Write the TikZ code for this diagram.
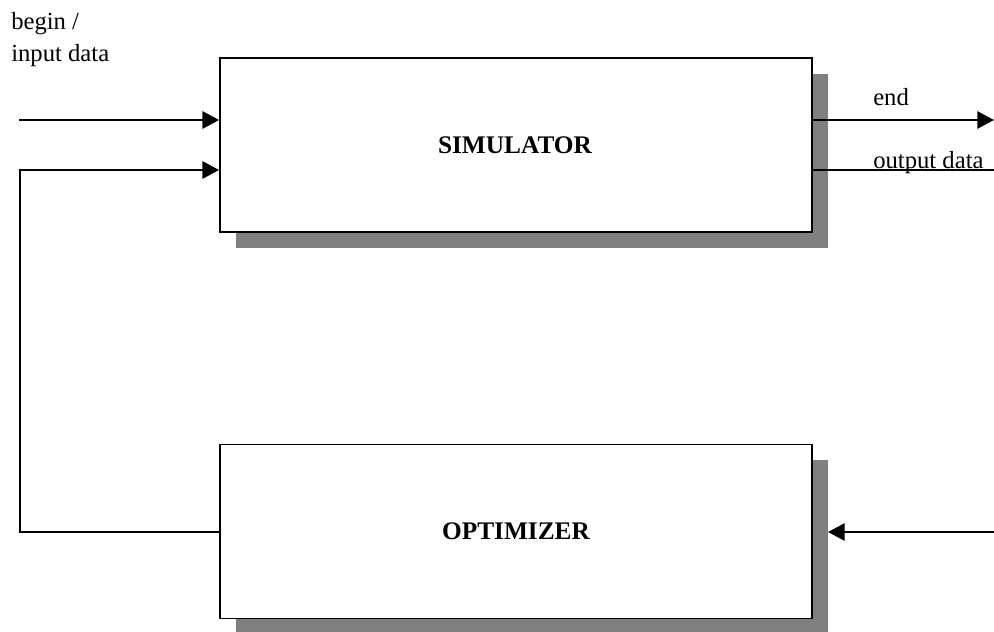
\documentclass[tikz,border=0pt]{standalone}
\usepackage{fontspec}
\setmainfont{Liberation Serif}
\usetikzlibrary{arrows.meta}
\definecolor{shadowgray}{HTML}{808080}
\begin{document}
\begin{tikzpicture}[x=0.75pt,y=-0.75pt,
  box/.style={draw=black,line width=1.4pt,fill=white,minimum width=444pt,minimum height=130.5pt,inner sep=0pt},
  boxtext/.style={font=\bfseries\fontsize{19}{22}\selectfont,inner sep=0pt,anchor=base},
  conn/.style={line width=1.4pt,-{Triangle[length=12.5pt,width=13pt]}},
  plain/.style={line width=1.4pt},
  lbl/.style={font=\fontsize{18.5}{22}\selectfont,inner sep=0pt,anchor=base west}]
\useasboundingbox (0,0) rectangle (994,631);
% shadows
\fill[shadowgray] (236,74) rectangle (828,248);
\fill[shadowgray] (236,460) rectangle (828,634);
% boxes
\node[box] (sim) at (516,145) {};
\node[box] (opt) at (516,531.5) {};
\node[boxtext] (simt) at (515,153) {SIMULATOR};
\node[boxtext] (optt) at (516,539) {OPTIMIZER};
% coordinates
\coordinate (inL) at (19,120);
\coordinate (fbL) at (20,170);
\coordinate (fbB) at (20,532);
\coordinate (endR) at (994,120);
\coordinate (outR) at (994,170);
\coordinate (optR) at (994,532);
\coordinate (optS) at (828,532);
% connectors
\draw[conn] (inL) -- (inL -| sim.west);
\draw[conn] (opt.west |- fbB) -- (fbB) -- (fbL) -- (fbL -| sim.west);
\draw[conn] (sim.east |- endR) -- (endR);
\draw[plain] (sim.east |- outR) -- (outR);
\draw[conn] (optR) -- (optS);
% labels
\node[lbl] (t1) at (11,30) {begin /};
\node[lbl] (t2) at (11,62) {input data};
\node[lbl] (t3) at (873,106) {end};
\node[lbl] (t4) at (873,168) {output data};
\end{tikzpicture}
\end{document}
